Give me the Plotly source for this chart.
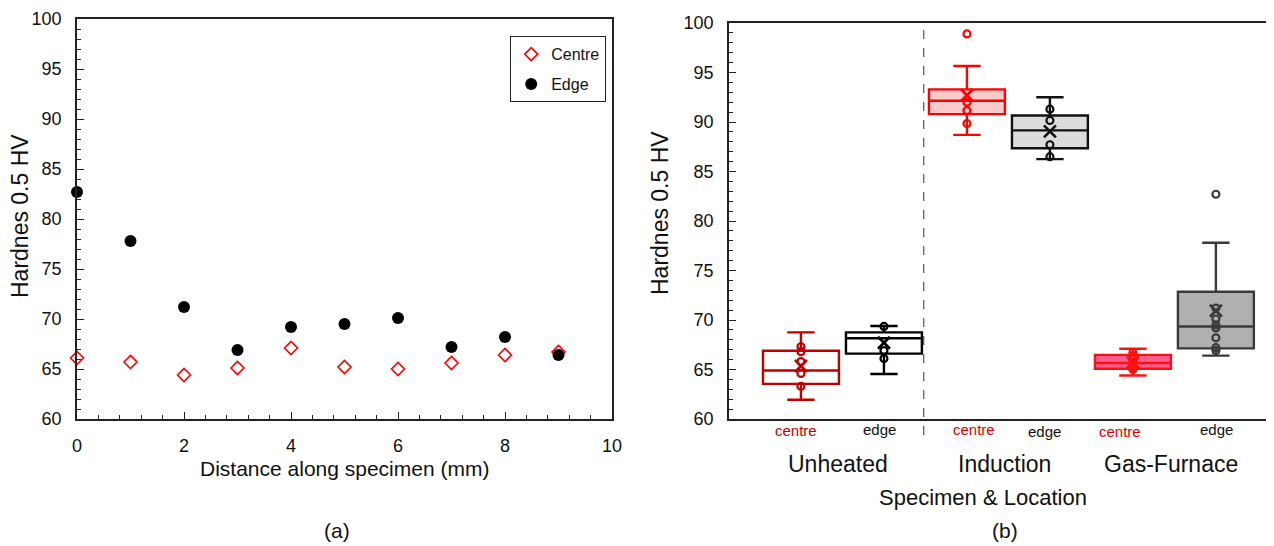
import plotly.graph_objects as go

# ---------------- data: panel (a) ----------------
distance_mm = [0, 1, 2, 3, 4, 5, 6, 7, 8, 9]
centre_hv = [66.1, 65.7, 64.4, 65.1, 67.1, 65.2, 65.0, 65.6, 66.4, 66.7]
edge_hv = [82.7, 77.8, 71.2, 66.9, 69.2, 69.5, 70.1, 67.2, 68.2, 66.4]

# ---------------- data: panel (b) box statistics ----------------
box_labels = ["centre", "edge", "centre", "edge", "centre", "edge"]
group_labels = ["Unheated", "Induction", "Gas-Furnace"]
box_q1 = [63.55, 66.6, 90.8, 87.35, 65.08, 67.13]
box_median = [64.9, 68.15, 92.15, 89.15, 65.65, 69.35]
box_q3 = [66.9, 68.75, 93.3, 90.65, 66.48, 72.85]
box_lower = [61.95, 64.55, 88.7, 86.25, 64.4, 66.4]
box_upper = [68.75, 69.4, 95.65, 92.5, 67.1, 77.8]
box_mean = [65.35, 67.7, 92.7, 89.05, 65.73, 70.93]
inner_points = [
    [67.3, 66.8, 65.8, 64.6, 63.3],
    [69.35, 66.9, 66.1],
    [92.0, 91.15, 89.85],
    [91.3, 90.15, 87.7, 86.5],
    sorted(centre_hv)[1:-1],
    sorted(edge_hv)[1:-2],
]
outliers = [[], [], [98.9], [], [], [82.7]]

# ---------------- layout helpers (page has an 8px body margin) ----------------
W, H, OFF = 1266, 538, 8


def fx(px):
    return (px - OFF) / W


def fy(py):
    return 1 - (py - OFF) / H


FONT = "Liberation Sans, Arial, sans-serif"
line_cols = ["#c00000", "#000000", "#ff0000", "#111111", "#ff1010", "#3a3a3a"]
fill_cols = ["rgba(255,255,255,0)", "rgba(255,255,255,0)", "#fbcaca",
             "#dcdcdc", "#ff5f8f", "#b0b0b0"]
label_cols = ["#c00000", "#111111", "#e00000", "#111111", "#e00000", "#111111"]

fig = go.Figure()

# panel (a)
fig.add_trace(go.Scatter(
    x=distance_mm, y=centre_hv, mode="markers", name="Centre",
    marker=dict(symbol="diamond-open", size=10, color="#ff0000",
                line=dict(width=1.6, color="#ff0000")),
    cliponaxis=False, xaxis="x", yaxis="y", legendgroup="c"))
fig.add_trace(go.Scatter(
    x=distance_mm, y=edge_hv, mode="markers", name="Edge",
    marker=dict(symbol="circle", size=12, color="#000000"),
    cliponaxis=False, xaxis="x", yaxis="y", legendgroup="e"))

# panel (b)
for i in range(len(box_labels)):
    fig.add_trace(go.Box(
        x=[i], q1=[box_q1[i]], median=[box_median[i]], q3=[box_q3[i]],
        lowerfence=[box_lower[i]], upperfence=[box_upper[i]],
        orientation="v", width=0.915, whiskerwidth=0.36,
        fillcolor=fill_cols[i], line=dict(color=line_cols[i], width=2.4),
        boxpoints=False, showlegend=False, xaxis="x2", yaxis="y2",
        hoverinfo="skip"))
    pts = inner_points[i] + outliers[i]
    fig.add_trace(go.Scatter(
        x=[i] * len(pts), y=pts, mode="markers", showlegend=False,
        marker=dict(symbol="circle-open", size=7, color=line_cols[i],
                    line=dict(width=2.2, color=line_cols[i])),
        xaxis="x2", yaxis="y2", cliponaxis=False))
    fig.add_trace(go.Scatter(
        x=[i], y=[box_mean[i]], mode="markers", showlegend=False,
        marker=dict(symbol="x-thin-open", size=12, color=line_cols[i],
                    line=dict(width=2.6, color=line_cols[i])),
        xaxis="x2", yaxis="y2", cliponaxis=False))

axis_common = dict(showgrid=False, zeroline=False, mirror=True, automargin=False,
                   showline=True, linecolor="#222", linewidth=1.5,
                   tickfont=dict(family=FONT, size=18, color="#111"))


def ann(text, px, py, size, color="#111", angle=0):
    return dict(text=text, x=fx(px), y=fy(py), xref="paper", yref="paper",
                xanchor="center", yanchor="middle", textangle=angle,
                showarrow=False, font=dict(family=FONT, size=size, color=color))


annotations = [
    ann("Hardnes 0.5 HV", 20, 216, 23, angle=-90),
    ann("Hardnes 0.5 HV", 660, 213, 23, angle=-90),
    ann("Distance along specimen (mm)", 344, 468, 21),
]
cat_px = [796, 879, 974, 1044, 1120, 1216]
cat_py = [430, 429, 429, 431, 431, 429]
for i, lab in enumerate(box_labels):
    annotations.append(ann(lab, cat_px[i], cat_py[i], 15, label_cols[i]))
grp_px = [838, 1004, 1171]
for i, g in enumerate(group_labels):
    annotations.append(ann(g, grp_px[i], 464, 23))
annotations.append(ann("Specimen & Location", 983, 497, 22))
annotations.append(ann("(a)", 337, 530, 21))
annotations.append(ann("(b)", 1005, 530, 21))

fig.update_layout(
    width=W, height=H,
    margin=dict(l=0, r=0, t=0, b=0, autoexpand=False),
    paper_bgcolor="white", plot_bgcolor="white",
    font=dict(family=FONT, color="#111"),
    xaxis=dict(domain=[fx(77), fx(612)], range=[0, 10], dtick=2,
               ticks="inside", ticklen=7, tickcolor="#222",
               minor=dict(dtick=0.4, ticks="inside", ticklen=4, tickcolor="#222"),
               ticklabelstandoff=10, anchor="y", **axis_common),
    yaxis=dict(domain=[fy(419), fy(19)], range=[60, 100], dtick=5,
               ticks="inside", ticklen=7, tickcolor="#222",
               minor=dict(dtick=1, ticks="inside", ticklen=4, tickcolor="#222"),
               ticklabelstandoff=10, anchor="x", **axis_common),
    xaxis2=dict(domain=[fx(729), fx(1269)], range=[-0.867, 5.64],
                showticklabels=False, ticks="", anchor="y2", **axis_common),
    yaxis2=dict(domain=[fy(419), fy(23)], range=[60, 100], dtick=5,
                ticks="inside", ticklen=7, tickcolor="#222",
                minor=dict(dtick=1, ticks="inside", ticklen=4, tickcolor="#222"),
                ticklabelstandoff=10, anchor="x2", **axis_common),
    legend=dict(x=fx(606), y=fy(36), xanchor="right", yanchor="top",
                bordercolor="#222", borderwidth=1.2, bgcolor="white",
                font=dict(family=FONT, size=16, color="#111"),
                tracegroupgap=6, traceorder="grouped"),
    shapes=[dict(type="line", xref="x2", yref="paper", x0=1.48, x1=1.48,
                 y0=fy(435), y1=fy(23),
                 line=dict(color="#333", width=1, dash="dash"))],
    annotations=annotations,
    showlegend=True,
)

fig.write_html("out.html")
